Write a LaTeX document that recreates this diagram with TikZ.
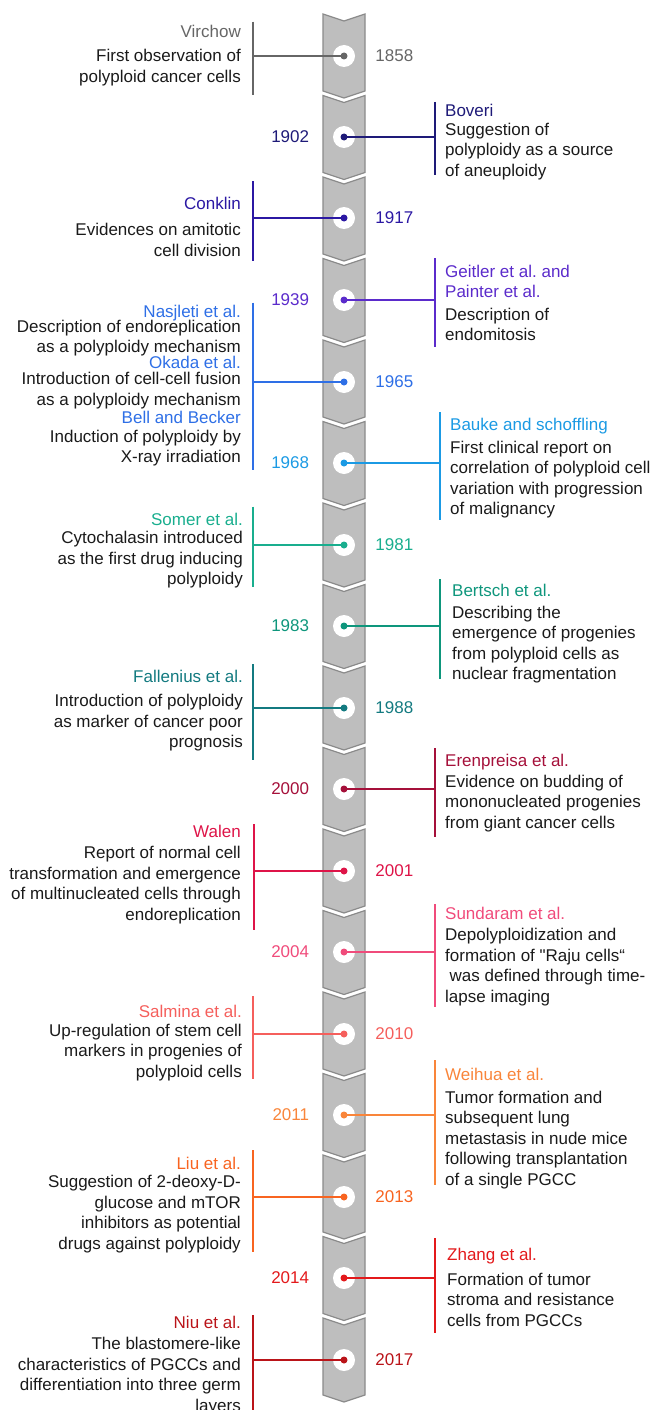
\documentclass[tikz,border=0pt]{standalone}
\usepackage{fontspec}
\setmainfont{Liberation Sans}[Ligatures=TeXOff]
\usetikzlibrary{positioning}

\definecolor{ink}{HTML}{1A1A1A}
\definecolor{segfill}{HTML}{BEBEBE}
\definecolor{segline}{HTML}{8A8A8A}
\definecolor{c1858}{HTML}{666666}
\definecolor{c1902}{HTML}{1E1A78}
\definecolor{c1917}{HTML}{2B18A3}
\definecolor{c1939}{HTML}{5B2BCB}
\definecolor{c1965}{HTML}{2E6FE6}
\definecolor{c1968}{HTML}{1B9AE4}
\definecolor{c1981}{HTML}{19AE8E}
\definecolor{c1983}{HTML}{0E967C}
\definecolor{c1988}{HTML}{137A80}
\definecolor{c2000}{HTML}{A5103A}
\definecolor{c2001}{HTML}{DE1448}
\definecolor{c2004}{HTML}{F04B7B}
\definecolor{c2010}{HTML}{F55F5C}
\definecolor{c2011}{HTML}{F9853A}
\definecolor{c2013}{HTML}{F86420}
\definecolor{c2014}{HTML}{E3191B}
\definecolor{c2017}{HTML}{BA1419}

\newcommand{\evtlabel}[2]{\rule{0pt}{14pt}\textcolor{#1}{#2}}
\newcommand{\bodyfont}{\fontsize{17pt}{20.5pt}\selectfont\frenchspacing}

\begin{document}
\begin{tikzpicture}[
        x=1pt, y=-1pt,
        segment/.style={draw=segline, fill=segfill, line width=1.2pt, line join=miter},
        hole/.style={circle, fill=white, minimum size=22pt, inner sep=0pt},
        pin/.style={circle, minimum size=7pt, inner sep=0pt},
        year/.style={inner sep=0pt, font=\bodyfont},
        lefttext/.style={anchor=north east, align=right, inner sep=0pt, font=\bodyfont, text=ink},
        righttext/.style={anchor=north west, align=left, inner sep=0pt, font=\bodyfont, text=ink},
        bar/.style={line width=1.5pt},
        link/.style={line width=1.5pt}
    ]
    \useasboundingbox (0,0) rectangle (655,1410);

    % Spine of chevron segments
    \foreach \i in {0,...,16} {
        \pgfmathsetmacro{\yc}{56+81.5*\i}
        \draw[segment] (323,\yc-42) -- (344,\yc-35) -- (365,\yc-42) -- (365,\yc+35)
            -- (344,\yc+42) -- (323,\yc+35) -- cycle;
    }

    % 1858 - Virchow
    \node[hole] (h1858) at (344,56) {};
    \node[year, text=c1858, right=20pt of h1858] (y1858) {1858};
    \node[lefttext] (t1858) at (241,23.2) {\evtlabel{c1858}{Virchow}\\[3.8pt]First observation of\\polyploid cancer cells};
    \coordinate (a1858) at (253,21.7);
    \coordinate (b1858) at (253,95);
    \draw[bar, c1858] (a1858) -- (b1858);
    \draw[link, c1858] (h1858.center) -- (h1858 -| a1858);
    \node[pin, fill=c1858] (p1858) at (h1858) {};

    % 1902 - Boveri
    \node[hole] (h1902) at (344,137) {};
    \node[year, text=c1902, left=23.5pt of h1902] (y1902) {1902};
    \node[righttext] (t1902) at (445,102.5) {\evtlabel{c1902}{Boveri}\\[-2pt]Suggestion of\\polyploidy as a source\\of aneuploidy};
    \coordinate (a1902) at (435,102);
    \coordinate (b1902) at (435,175);
    \draw[bar, c1902] (a1902) -- (b1902);
    \draw[link, c1902] (h1902.center) -- (h1902 -| a1902);
    \node[pin, fill=c1902] (p1902) at (h1902) {};

    % 1917 - Conklin
    \node[hole] (h1917) at (344,218) {};
    \node[year, text=c1917, right=20pt of h1917] (y1917) {1917};
    \node[lefttext] (t1917) at (241,194.8) {\evtlabel{c1917}{Conklin}\\[6pt]Evidences on amitotic\\cell division};
    \coordinate (a1917) at (253,181);
    \coordinate (b1917) at (253,261);
    \draw[bar, c1917] (a1917) -- (b1917);
    \draw[link, c1917] (h1917.center) -- (h1917 -| a1917);
    \node[pin, fill=c1917] (p1917) at (h1917) {};

    % 1939 - Geitler, Painter
    \node[hole] (h1939) at (344,300) {};
    \node[year, text=c1939, left=23.5pt of h1939] (y1939) {1939};
    \node[righttext] (t1939) at (445,263.2) {\evtlabel{c1939}{Geitler et al. and}\\\textcolor{c1939}{Painter et al.}\\[1.8pt]Description of\\endomitosis};
    \coordinate (a1939) at (435,258.3);
    \coordinate (b1939) at (435,346.7);
    \draw[bar, c1939] (a1939) -- (b1939);
    \draw[link, c1939] (h1939.center) -- (h1939 -| a1939);
    \node[pin, fill=c1939] (p1939) at (h1939) {};

    % 1965 - Nasjleti, Okada, Bell and Becker
    \node[hole] (h1965) at (344,382) {};
    \node[year, text=c1965, right=20pt of h1965] (y1965) {1965};
    \node[lefttext] (t1965) at (241,303.2) {\evtlabel{c1965}{Nasjleti et al.}\\[-5.5pt]Description of endoreplication\\as a polyploidy mechanism\\[-4.5pt]\evtlabel{c1965}{Okada et al.}\\[-4.5pt]Introduction of cell-cell fusion\\as a polyploidy mechanism\\[-2pt]\evtlabel{c1965}{Bell and Becker}\\[-2pt]Induction of polyploidy by\\X-ray irradiation};
    \coordinate (a1965) at (253,302.7);
    \coordinate (b1965) at (253,470);
    \draw[bar, c1965] (a1965) -- (b1965);
    \draw[link, c1965] (h1965.center) -- (h1965 -| a1965);
    \node[pin, fill=c1965] (p1965) at (h1965) {};

    % 1968 - Bauke and schoffling
    \node[hole] (h1968) at (344,463) {};
    \node[year, text=c1968, left=23.5pt of h1968] (y1968) {1968};
    \node[righttext] (t1968) at (450,415.8) {\evtlabel{c1968}{Bauke and schoffling}\\[2.9pt]First clinical report on\\correlation of polyploid cell\\variation with progression\\of malignancy};
    \coordinate (a1968) at (440,412.3);
    \coordinate (b1968) at (440,520);
    \draw[bar, c1968] (a1968) -- (b1968);
    \draw[link, c1968] (h1968.center) -- (h1968 -| a1968);
    \node[pin, fill=c1968] (p1968) at (h1968) {};

    % 1981 - Somer
    \node[hole] (h1981) at (344,545) {};
    \node[year, text=c1981, right=20pt of h1981] (y1981) {1981};
    \node[lefttext] (t1981) at (243,510.8) {\evtlabel{c1981}{Somer et al.}\\[-2pt]Cytochalasin introduced\\as the first drug inducing\\polyploidy};
    \coordinate (a1981) at (253,506.7);
    \coordinate (b1981) at (253,587.3);
    \draw[bar, c1981] (a1981) -- (b1981);
    \draw[link, c1981] (h1981.center) -- (h1981 -| a1981);
    \node[pin, fill=c1981] (p1981) at (h1981) {};

    % 1983 - Bertsch
    \node[hole] (h1983) at (344,626) {};
    \node[year, text=c1983, left=23.5pt of h1983] (y1983) {1983};
    \node[righttext] (t1983) at (452,582.2) {\evtlabel{c1983}{Bertsch et al.}\\[1.5pt]Describing the\\emergence of progenies\\from polyploid cells as\\nuclear fragmentation};
    \coordinate (a1983) at (440,579);
    \coordinate (b1983) at (440,679.3);
    \draw[bar, c1983] (a1983) -- (b1983);
    \draw[link, c1983] (h1983.center) -- (h1983 -| a1983);
    \node[pin, fill=c1983] (p1983) at (h1983) {};

    % 1988 - Fallenius
    \node[hole] (h1988) at (344,708) {};
    \node[year, text=c1988, right=20pt of h1988] (y1988) {1988};
    \node[lefttext] (t1988) at (243,668.2) {\evtlabel{c1988}{Fallenius et al.}\\[3.8pt]Introduction of polyploidy\\as marker of cancer poor\\prognosis};
    \coordinate (a1988) at (253,664);
    \coordinate (b1988) at (253,760);
    \draw[bar, c1988] (a1988) -- (b1988);
    \draw[link, c1988] (h1988.center) -- (h1988 -| a1988);
    \node[pin, fill=c1988] (p1988) at (h1988) {};

    % 2000 - Erenpreisa
    \node[hole] (h2000) at (344,789) {};
    \node[year, text=c2000, left=23.5pt of h2000] (y2000) {2000};
    \node[righttext] (t2000) at (445,752.2) {\evtlabel{c2000}{Erenpreisa et al.}\\[0.5pt]Evidence on budding of\\mononucleated progenies\\from giant cancer cells};
    \coordinate (a2000) at (435,748.3);
    \coordinate (b2000) at (435,837.3);
    \draw[bar, c2000] (a2000) -- (b2000);
    \draw[link, c2000] (h2000.center) -- (h2000 -| a2000);
    \node[pin, fill=c2000] (p2000) at (h2000) {};

    % 2001 - Walen
    \node[hole] (h2001) at (344,871) {};
    \node[year, text=c2001, right=20pt of h2001] (y2001) {2001};
    \node[lefttext] (t2001) at (241,823.2) {\evtlabel{c2001}{Walen}\\[1pt]Report of normal cell\\transformation and emergence\\of multinucleated cells through\\endoreplication};
    \coordinate (a2001) at (254,824);
    \coordinate (b2001) at (254,930);
    \draw[bar, c2001] (a2001) -- (b2001);
    \draw[link, c2001] (h2001.center) -- (h2001 -| a2001);
    \node[pin, fill=c2001] (p2001) at (h2001) {};

    % 2004 - Sundaram
    \node[hole] (h2004) at (344,952) {};
    \node[year, text=c2004, left=23.5pt of h2004] (y2004) {2004};
    \node[righttext] (t2004) at (445,905.5) {\evtlabel{c2004}{Sundaram et al.}\\[0.5pt]Depolyploidization and\\formation of "Raju cells“\\\hspace*{4.5pt}was defined through time-\\lapse imaging};
    \coordinate (a2004) at (435,904);
    \coordinate (b2004) at (435,1007.3);
    \draw[bar, c2004] (a2004) -- (b2004);
    \draw[link, c2004] (h2004.center) -- (h2004 -| a2004);
    \node[pin, fill=c2004] (p2004) at (h2004) {};

    % 2010 - Salmina
    \node[hole] (h2010) at (344,1034) {};
    \node[year, text=c2010, right=20pt of h2010] (y2010) {2010};
    \node[lefttext] (t2010) at (242,1003.2) {\evtlabel{c2010}{Salmina et al.}\\[-1.5pt]Up-regulation of stem cell\\markers in progenies of\\polyploid cells};
    \coordinate (a2010) at (253,996);
    \coordinate (b2010) at (253,1079);
    \draw[bar, c2010] (a2010) -- (b2010);
    \draw[link, c2010] (h2010.center) -- (h2010 -| a2010);
    \node[pin, fill=c2010] (p2010) at (h2010) {};

    % 2011 - Weihua
    \node[hole] (h2011) at (344,1115) {};
    \node[year, text=c2011, left=23.5pt of h2011] (y2011) {2011};
    \node[righttext] (t2011) at (445,1066.5) {\evtlabel{c2011}{Weihua et al.}\\[1.8pt]Tumor formation and\\subsequent lung\\metastasis in nude mice\\following transplantation\\of a single PGCC};
    \coordinate (a2011) at (435,1060);
    \coordinate (b2011) at (435,1185);
    \draw[bar, c2011] (a2011) -- (b2011);
    \draw[link, c2011] (h2011.center) -- (h2011 -| a2011);
    \node[pin, fill=c2011] (p2011) at (h2011) {};

    % 2013 - Liu
    \node[hole] (h2013) at (344,1197) {};
    \node[year, text=c2013, right=20pt of h2013] (y2013) {2013};
    \node[lefttext] (t2013) at (241,1154.8) {\evtlabel{c2013}{Liu et al.}\\[-2pt]Suggestion of 2-deoxy-D-\\glucose and mTOR\\inhibitors as potential\\drugs against polyploidy};
    \coordinate (a2013) at (253,1150);
    \coordinate (b2013) at (253,1251.7);
    \draw[bar, c2013] (a2013) -- (b2013);
    \draw[link, c2013] (h2013.center) -- (h2013 -| a2013);
    \node[pin, fill=c2013] (p2013) at (h2013) {};

    % 2014 - Zhang
    \node[hole] (h2014) at (344,1278) {};
    \node[year, text=c2014, left=23.5pt of h2014] (y2014) {2014};
    \node[righttext] (t2014) at (447,1246.5) {\evtlabel{c2014}{Zhang et al.}\\[3.8pt]Formation of tumor\\stroma and resistance\\cells from PGCCs};
    \coordinate (a2014) at (435,1238.3);
    \coordinate (b2014) at (435,1333.3);
    \draw[bar, c2014] (a2014) -- (b2014);
    \draw[link, c2014] (h2014.center) -- (h2014 -| a2014);
    \node[pin, fill=c2014] (p2014) at (h2014) {};

    % 2017 - Niu
    \node[hole] (h2017) at (344,1360) {};
    \node[year, text=c2017, right=20pt of h2017] (y2017) {2017};
    \node[lefttext] (t2017) at (241,1314.2) {\evtlabel{c2017}{Niu et al.}\\[0.8pt]The blastomere-like\\characteristics of PGCCs and\\differentiation into three germ\\layers};
    \coordinate (a2017) at (253,1315);
    \coordinate (b2017) at (253,1412);
    \draw[bar, c2017] (a2017) -- (b2017);
    \draw[link, c2017] (h2017.center) -- (h2017 -| a2017);
    \node[pin, fill=c2017] (p2017) at (h2017) {};
\end{tikzpicture}
\end{document}
